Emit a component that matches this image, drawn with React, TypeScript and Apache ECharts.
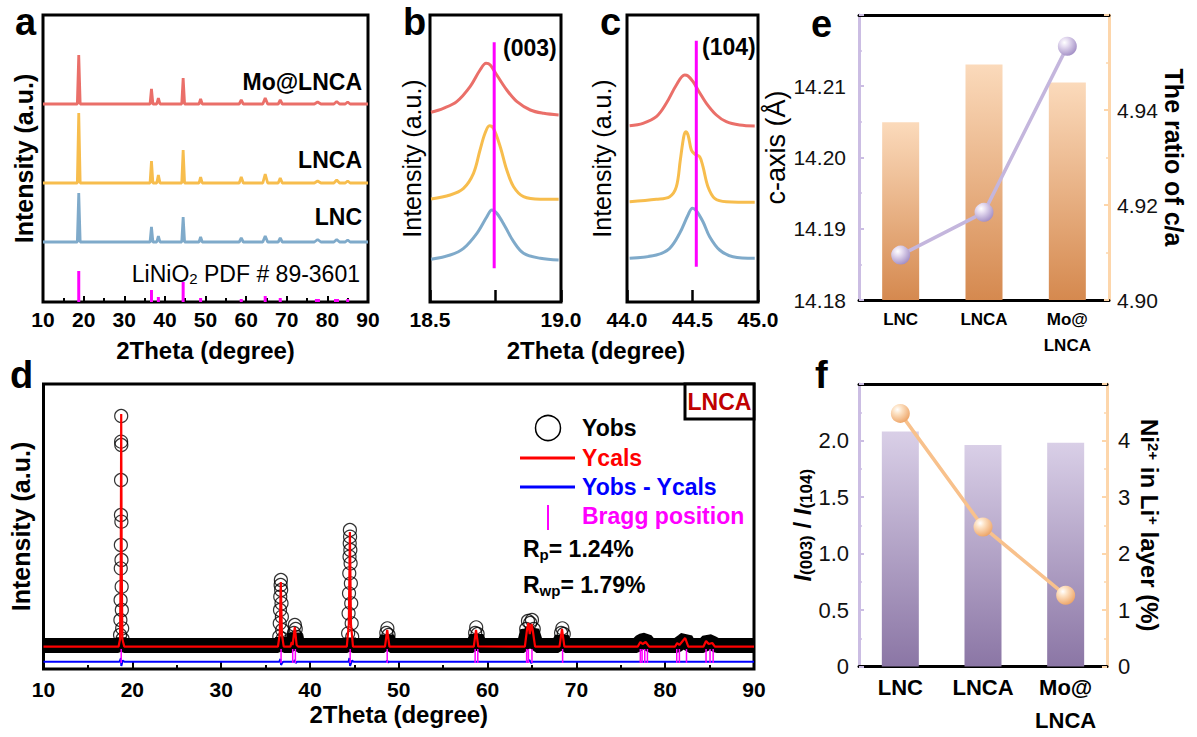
import React, { useEffect, useRef } from 'react';
import * as echarts from 'echarts';

const FONT = '"Liberation Sans", Arial, Helvetica, sans-serif';

// ---------- panel a : XRD patterns (offset traces) ----------
const aLNC: [number, number][] = [[10,60],[18.45,60],[18.8,109],[19.15,60],[36.35,60],[36.7,75],[37.05,60],[38.0,60],[38.4,66],[38.8,60],[44.15,60],[44.5,85],[44.85,60],[48.4,60],[48.8,65],[49.2,60],[58.3,60],[58.8,64],[59.3,60],[64.1,60],[64.7,66],[65.3,60],[67.9,60],[68.4,64],[68.9,60],[76.8,60],[77.6,62.5],[78.4,60],[81.6,60],[82.3,62.5],[83.0,60],[84.4,60],[85.0,62],[85.6,60],[90,60]];
const aLNCA: [number, number][] = [[10,119],[18.45,119],[18.8,189],[19.15,119],[36.35,119],[36.7,141],[37.05,119],[38.0,119],[38.4,127],[38.8,119],[44.15,119],[44.5,152],[44.85,119],[48.4,119],[48.8,125],[49.2,119],[58.3,119],[58.8,125],[59.3,119],[64.1,119],[64.7,128],[65.3,119],[67.9,119],[68.4,124],[68.9,119],[76.8,119],[77.6,121],[78.4,119],[81.6,119],[82.3,122],[83.0,119],[84.4,119],[85.0,121],[85.6,119],[90,119]];
const aMoLNCA: [number, number][] = [[10,198],[18.45,198],[18.8,247],[19.15,198],[36.35,198],[36.7,213],[37.05,198],[38.0,198],[38.4,204],[38.8,198],[44.15,198],[44.5,224],[44.85,198],[48.4,198],[48.8,203],[49.2,198],[58.3,198],[58.8,202],[59.3,198],[64.1,198],[64.7,204],[65.3,198],[67.9,198],[68.4,202],[68.9,198],[76.8,198],[77.6,200],[78.4,198],[81.6,198],[82.3,200.5],[83.0,198],[84.4,198],[85.0,200],[85.6,198],[90,198]];
const pdfPositions = [18.8, 36.7, 38.4, 44.5, 48.8, 58.8, 64.7, 68.4, 77.3, 77.8, 82.0, 82.5, 85.0];
const pdfHeights = [31, 12, 5, 20, 4, 3, 6, 4, 3, 3, 3, 3, 3];

// ---------- panel b : (003) ----------
const b003LNC: [number, number][] = [[18.504,42.7],[18.577,47],[18.628,53.7],[18.679,68.7],[18.717,85.3],[18.736,92],[18.755,88.7],[18.787,75.3],[18.819,60.3],[18.857,48.7],[18.921,43.7],[18.991,42]];
const b003LNCA: [number, number][] = [[18.504,103],[18.577,107],[18.628,113.7],[18.666,128.7],[18.691,152],[18.71,168.7],[18.727,176.3],[18.742,173.7],[18.768,155.3],[18.793,132],[18.819,115.3],[18.857,105.3],[18.921,102.7],[18.991,102.7]];
const b003Mo: [number, number][] = [[18.504,189.7],[18.551,193.7],[18.602,200.3],[18.653,215.3],[18.691,232],[18.714,238.7],[18.73,237],[18.755,227],[18.793,212],[18.832,200.3],[18.883,192],[18.934,188.7],[18.991,187]];
const b003Ref: [number, number][] = [[18.745,33.7],[18.745,259.7]];

// ---------- panel c : (104) ----------
const c104LNC: [number, number][] = [[44.02,43.7],[44.224,47],[44.326,53.7],[44.402,68.7],[44.466,87],[44.499,93.7],[44.529,91.3],[44.58,80.3],[44.631,65.3],[44.707,52],[44.809,45.3],[44.975,43.7]];
const c104LNCA: [number, number][] = [[44.02,100.3],[44.224,102.7],[44.326,105.3],[44.377,115.3],[44.407,142],[44.433,165.3],[44.448,170.3],[44.466,167],[44.491,152],[44.517,148],[44.555,145.3],[44.58,135.3],[44.618,115.3],[44.669,103.7],[44.758,100.3],[44.975,99.7]];
const c104Mo: [number, number][] = [[44.02,176.3],[44.122,178.7],[44.224,185.3],[44.3,198.7],[44.377,217],[44.44,227],[44.466,226],[44.504,220.3],[44.542,212],[44.606,198.7],[44.682,187],[44.758,180.3],[44.86,177],[44.975,176]];
const c104Ref: [number, number][] = [[44.529,35.3],[44.529,261.3]];

// ---------- panel d : Rietveld refinement (LNCA) ----------
const dYobsPeaks: [number, number][] = [
  [18.62,34],[18.66,49],[18.68,69],[18.7,100.7],[18.71,124],[18.72,154],[18.73,189],[18.74,227.3],[18.75,253],[18.76,224],[18.77,147.3],[18.78,109],[18.8,82.3],[18.82,59],[18.86,40.7],[18.9,30],
  [36.55,32.3],[36.6,45.7],[36.63,59],[36.66,72.3],[36.7,84],[36.73,89],[36.76,79],[36.8,65.7],[36.84,52.3],[36.88,39],[36.93,30],
  [38.2,36],[38.3,44],[38.4,40],[38.5,32],
  [44.3,35.7],[44.35,55.7],[44.4,75.7],[44.43,95.7],[44.46,112.3],[44.48,125.7],[44.5,139],[44.52,132.3],[44.55,119],[44.58,105.7],[44.61,85.7],[44.65,65.7],[44.7,45.7],[44.76,32],
  [48.6,36],[48.72,40.7],[48.85,34],
  [58.6,36],[58.72,41.7],[58.88,35],
  [64.35,40],[64.55,48],[64.8,46],[65.0,49],[65.2,40],
  [68.28,36],[68.42,40.7],[68.58,35]
];
const dYobsBand: [number, number][] = [[10,23.5],[18.4,23.5],[18.75,26],[19.1,23.5],[36.4,23.5],[36.75,27],[37.1,23.5],[37.9,23.5],[38.3,34],[38.7,23.5],[44.2,23.5],[44.5,27],[44.8,23.5],[48.35,23.5],[48.7,32],[49.05,23.5],[58.35,23.5],[58.75,32],[59.15,23.5],[64.1,23.5],[64.5,38],[64.75,35],[65.0,38],[65.5,23.5],[67.95,23.5],[68.35,31],[68.75,23.5],[76.8,23.5],[77.3,28],[77.8,29],[78.3,23.5],[81.3,23.5],[82.0,28],[82.3,30],[82.7,23.5],[84.3,23.5],[84.8,28],[85.3,26],[85.8,23.5],[90,23.5]];
const dYcals: [number, number][] = [[10,22.3],[18.45,22.3],[18.62,30],[18.7,110],[18.75,255],[18.8,110],[18.88,30],[19.1,22.3],[36.4,22.3],[36.6,35],[36.72,87],[36.84,35],[37.05,22.3],[37.8,22.3],[37.95,27],[38.05,24],[38.3,42],[38.5,24],[38.7,22.3],[44.15,22.3],[44.38,45],[44.5,137],[44.62,45],[44.85,22.3],[48.45,22.3],[48.7,39],[48.95,22.3],[58.45,22.3],[58.7,39],[58.95,22.5],[64.2,22.3],[64.45,40],[64.6,46],[64.75,35],[64.95,45],[65.1,38],[65.35,22.3],[68.1,22.3],[68.38,40],[68.65,22.3],[76.9,22.3],[77.2,27],[77.45,25],[77.8,27],[78.2,22.3],[81.1,22.3],[81.35,26],[81.6,24],[82.25,31],[82.6,22.3],[84.3,22.3],[84.6,28],[84.9,25],[85.3,26],[85.6,22.3],[90,22.3]];
const dDiff: [number, number][] = [[10,7.3],[18.55,7.3],[18.65,9],[18.72,11],[18.76,3],[18.82,5],[18.9,8.5],[19.1,7.3],[36.55,7.3],[36.68,10],[36.75,4],[36.85,6],[37.0,7.3],[38.2,7.3],[38.3,9],[38.4,6],[38.55,7.3],[44.35,7.3],[44.45,11],[44.52,3],[44.6,5],[44.75,8.5],[44.9,7.3],[48.6,7.3],[48.7,8.5],[48.8,6.5],[48.9,7.3],[64.5,7.3],[64.7,9],[64.9,6],[65.1,7.3],[90,7.3]];
const braggPositions = [18.75, 36.75, 38.06, 38.36, 44.53, 48.7, 58.6, 58.9, 64.4, 64.6, 65.0, 68.45, 77.2, 77.4, 77.7, 78.0, 81.3, 81.6, 82.4, 84.6, 85.05, 85.4];
const braggRange = [6, 20];

// ---------- panels e & f ----------
const samples = ['LNC', 'LNCA', 'Mo@\nLNCA'];
const eRatioCA = [4.9374, 4.9496, 4.9458];
const eCAxis = [14.1863, 14.1923, 14.2156];
const fI003I104 = [2.08, 1.96, 1.98];
const fNiInLi = [4.48, 2.47, 1.26];

const cRed = '#ea6f69';
const cYellow = '#f7bd4d';
const cBlue = '#7faaca';
const magenta = '#ff00ff';
const lavender = '#cbbde3';
const peach = '#fdd6ab';

const sticks = (pos: number[], lo: (i: number) => number, hi: (i: number) => number) =>
  pos.flatMap((p, i) => [[p, lo(i)], [p, hi(i)], [p, '-']]);

const valueX = (grid: number, min: number, max: number, interval: number, extra: any = {}) => ({
  type: 'value', gridIndex: grid, min, max, interval,
  axisLine: { show: false },
  axisTick: { show: true, inside: true, length: 6, lineStyle: { color: '#000', width: 2 } },
  minorTick: { show: true, splitNumber: 2, length: 4, lineStyle: { color: '#000', width: 2 } },
  splitLine: { show: false },
  axisLabel: { color: '#000', fontSize: 21, fontWeight: 'bold', fontFamily: FONT, margin: 7, lineHeight: 21 },
  ...extra,
});

const hiddenY = (grid: number, min: number, max: number, name: string, gap: number, bold: boolean) => ({
  type: 'value', gridIndex: grid, min, max, show: true,
  axisLine: { show: false }, axisTick: { show: false }, axisLabel: { show: false }, splitLine: { show: false },
  name, nameLocation: 'middle', nameRotate: 90, nameGap: gap,
  nameTextStyle: { color: '#000', fontSize: 25, fontWeight: bold ? 'bold' : 'normal', fontFamily: FONT, lineHeight: 25 },
});

const catX = (grid: number, top: boolean, fontSize: number, lineHeight: number, margin: number) => ({
  type: 'category', gridIndex: grid, data: samples, position: top ? 'top' : 'bottom',
  axisLine: { show: true, onZero: false, lineStyle: { color: '#000', width: 3 } },
  axisTick: { show: false },
  axisLabel: top ? { show: false } : { color: '#000', fontSize, fontWeight: 'bold', fontFamily: FONT, lineHeight, margin, interval: 0 },
  splitLine: { show: false },
});

const sideY = (grid: number, side: 'left' | 'right', color: string, min: number, max: number, interval: number, fmt: (v: number) => string, margin: number, name: any, nameGap: number, nameRotate: number, nameTextStyle: any, fontSize: number) => ({
  type: 'value', gridIndex: grid, position: side, min, max, interval,
  axisLine: { show: true, onZero: false, lineStyle: { color, width: 3 } },
  axisTick: { show: true, inside: true, length: 5, lineStyle: { color, width: 2 } },
  minorTick: { show: true, splitNumber: 2, length: 3, lineStyle: { color, width: 1.5 } },
  splitLine: { show: false },
  axisLabel: { color: '#111', fontSize, fontFamily: FONT, margin, formatter: fmt, showMaxLabel: false },
  name, nameLocation: 'middle', nameRotate, nameGap, nameTextStyle,
});

const vGrad = (top: string, bottom: string) => new echarts.graphic.LinearGradient(0, 0, 0, 1, [
  { offset: 0, color: top }, { offset: 1, color: bottom },
]);
const sphere = (mid: string, edge: string) => new echarts.graphic.RadialGradient(0.35, 0.3, 0.75, [
  { offset: 0, color: '#ffffff' }, { offset: 0.3, color: mid }, { offset: 1, color: edge },
]);

const line = (name: string, x: number, y: number, data: any[], color: string, width: number, smooth: any = false, z = 2) => ({
  name, type: 'line', xAxisIndex: x, yAxisIndex: y, data, smooth, symbol: 'none', z,
  lineStyle: { color, width }, connectNulls: false,
});

const boxGrid = (left: number, top: number, width: number, height: number) => ({
  left, top, width, height, show: true, borderColor: '#000', borderWidth: 3, backgroundColor: 'transparent',
});

const txt = (text: string, x: number, y: number, size: number, opts: any = {}) => ({
  type: 'text', x, y, z: 100,
  style: { text, fontSize: size, fontWeight: 'bold', fontFamily: FONT, fill: '#000', align: 'left', verticalAlign: 'middle', ...opts },
});

const subRich = (main: number, sub: number, drop: number, weight: string) => ({
  m: { fontSize: main, fontWeight: weight, fontFamily: FONT, lineHeight: main + 1, verticalAlign: 'top', fill: '#000', color: '#000' },
  s: { fontSize: sub, fontWeight: weight, fontFamily: FONT, lineHeight: sub, padding: [drop, 0, 0, 0], verticalAlign: 'bottom', fill: '#000', color: '#000' },
});

const option: any = {
  animation: false,
  backgroundColor: '#ffffff',
  textStyle: { fontFamily: FONT },
  grid: [
    boxGrid(43, 15, 325, 287),
    boxGrid(430, 15, 131, 287),
    boxGrid(627, 15, 131, 287),
    boxGrid(43, 384, 711, 285),
    { left: 859, top: 15, width: 250, height: 285 },
    { left: 859, top: 384, width: 248, height: 284 },
  ],
  xAxis: [
    valueX(0, 10, 90, 10, { name: '2Theta (degree)', nameLocation: 'middle', nameGap: 36, nameTextStyle: { color: '#000', fontSize: 24, fontWeight: 'bold', fontFamily: FONT, lineHeight: 24 } }),
    valueX(1, 18.5, 19.0, 0.25, {
      axisTick: { show: true, inside: true, length: 12, lineStyle: { color: '#000', width: 2.5 } }, minorTick: { show: false },
      axisLabel: { color: '#000', fontSize: 21, fontWeight: 'bold', fontFamily: FONT, margin: 7, lineHeight: 21, formatter: (v: number) => (Math.abs(v - 18.75) < 1e-6 ? '' : v.toFixed(1)) },
    }),
    valueX(2, 44.0, 45.0, 0.5, {
      axisTick: { show: true, inside: true, length: 12, lineStyle: { color: '#000', width: 2.5 } }, minorTick: { show: false },
      axisLabel: { color: '#000', fontSize: 21, fontWeight: 'bold', fontFamily: FONT, margin: 7, lineHeight: 21, formatter: (v: number) => v.toFixed(1) },
    }),
    valueX(3, 10, 90, 10, {
      axisTick: { show: true, inside: true, length: 7, lineStyle: { color: '#000', width: 2 } },
      axisLabel: { color: '#000', fontSize: 21, fontWeight: 'bold', fontFamily: FONT, margin: 10, lineHeight: 21 },
      name: '2Theta (degree)', nameLocation: 'middle', nameGap: 33, nameTextStyle: { color: '#000', fontSize: 24, fontWeight: 'bold', fontFamily: FONT, lineHeight: 24 },
    }),
    catX(4, false, 17, 26, 6.5),
    catX(4, true, 17, 26, 6.5),
    catX(5, false, 22, 33, 4.5),
    catX(5, true, 22, 33, 4.5),
  ],
  yAxis: [
    hiddenY(0, 0, 287, 'Intensity (a.u.)', 6.5, true),
    hiddenY(1, 0, 287, 'Intensity (a.u.)', 5.5, false),
    hiddenY(2, 0, 287, 'Intensity (a.u.)', 12.5, false),
    hiddenY(3, 0, 285, 'Intensity (a.u.)', 10.5, true),
    sideY(4, 'left', lavender, 14.18, 14.22, 0.01, (v) => v.toFixed(2), 13, 'c-axis (Å)', 62.5, 90,
      { color: '#000', fontSize: 27, fontFamily: FONT, lineHeight: 27, padding: [0, 0, 0, 20] }, 21),
    sideY(4, 'right', peach, 4.90, 4.96, 0.02, (v) => v.toFixed(2), 8, 'The ratio of c/a', 52.5, -90,
      { color: '#000', fontSize: 25, fontWeight: 'bold', fontFamily: FONT, lineHeight: 25 }, 21),
    sideY(5, 'left', lavender, 0, 2.5, 0.5, (v) => (v === 0 ? '0' : v.toFixed(1)), 10,
      '{i|I}{s|(003)}{n| / }{i|I}{s|(104)}', 36.5, 90,
      {
        color: '#000', fontFamily: FONT,
        rich: {
          i: { fontSize: 24, fontWeight: 'bold', fontStyle: 'italic', fontFamily: FONT, lineHeight: 24, verticalAlign: 'top', color: '#000' },
          n: { fontSize: 24, fontWeight: 'bold', fontFamily: FONT, lineHeight: 24, verticalAlign: 'top', color: '#000' },
          s: { fontSize: 17, fontWeight: 'bold', fontFamily: FONT, lineHeight: 17, padding: [19, 0, 0, 0], verticalAlign: 'bottom', color: '#000' },
        },
      }, 22),
    sideY(5, 'right', peach, 0, 5, 1, (v) => String(v), 11,
      '{n|Ni}{p|2+}{n| in Li}{p|+}{n| layer (%)}', 30, -90,
      {
        color: '#000', fontFamily: FONT,
        rich: {
          n: { fontSize: 24, fontWeight: 'bold', fontFamily: FONT, lineHeight: 24, verticalAlign: 'bottom', color: '#000' },
          p: { fontSize: 15, fontWeight: 'bold', fontFamily: FONT, lineHeight: 15, padding: [0, 0, 10, 0], verticalAlign: 'top', color: '#000' },
        },
      }, 22),
  ],
  series: [
    // a
    line('LNC', 0, 0, aLNC, cBlue, 2.8),
    line('LNCA', 0, 0, aLNCA, cYellow, 2.8),
    line('Mo@LNCA', 0, 0, aMoLNCA, cRed, 2.8),
    line('LiNiO2 PDF # 89-3601', 0, 0, sticks(pdfPositions, () => 0, (i) => pdfHeights[i]), magenta, 3),
    // b
    line('LNC (003)', 1, 1, b003LNC, cBlue, 3, 0.35),
    line('LNCA (003)', 1, 1, b003LNCA, cYellow, 3, 0.35),
    line('Mo@LNCA (003)', 1, 1, b003Mo, cRed, 3, 0.35),
    line('(003) reference', 1, 1, b003Ref, magenta, 3, false, 5),
    // c
    line('LNC (104)', 2, 2, c104LNC, cBlue, 3, 0.35),
    line('LNCA (104)', 2, 2, c104LNCA, cYellow, 3, 0.35),
    line('Mo@LNCA (104)', 2, 2, c104Mo, cRed, 3, 0.35),
    line('(104) reference', 2, 2, c104Ref, magenta, 3, false, 5),
    // d
    line('Yobs band', 3, 3, dYobsBand, '#000', 15, false, 2),
    {
      name: 'Yobs', type: 'scatter', xAxisIndex: 3, yAxisIndex: 3, data: dYobsPeaks, symbol: 'circle', symbolSize: 13, z: 3,
      itemStyle: { color: 'rgba(0,0,0,0)', borderColor: '#000', borderWidth: 1.2 },
    },
    line('Ycals', 3, 3, dYcals, '#ff0000', 2.2, false, 4),
    line('Yobs - Ycals', 3, 3, dDiff, '#0000ff', 2, false, 4),
    line('Bragg position', 3, 3, sticks(braggPositions, () => braggRange[0], () => braggRange[1]), magenta, 1.5, false, 5),
    // e
    {
      name: 'c/a', type: 'bar', xAxisIndex: 4, yAxisIndex: 5, data: eRatioCA, barWidth: 37, z: 2,
      itemStyle: { color: vGrad('#fbdabb', '#d5894f') },
    },
    {
      name: 'c-axis', type: 'line', xAxisIndex: 4, yAxisIndex: 4, data: eCAxis, z: 4,
      symbol: 'circle', symbolSize: 19, lineStyle: { color: '#c4b6dd', width: 3.5 },
      itemStyle: { color: sphere('#e6ddf1', '#a08cc4') },
    },
    // f
    {
      name: 'I(003)/I(104)', type: 'bar', xAxisIndex: 6, yAxisIndex: 6, data: fI003I104, barWidth: 37, z: 2,
      itemStyle: { color: vGrad('#d9cfe7', '#8b76a5') },
    },
    {
      name: 'Ni2+ in Li+ layer', type: 'line', xAxisIndex: 6, yAxisIndex: 7, data: fNiInLi, z: 4,
      symbol: 'circle', symbolSize: 19, lineStyle: { color: '#f8c18c', width: 3.5 },
      itemStyle: { color: sphere('#fde3c6', '#eda365') },
    },
  ],
  graphic: [
    txt('a', 15, 22, 38),
    txt('b', 403, 22, 38),
    txt('c', 600, 22, 38),
    txt('e', 811, 24, 38),
    txt('d', 10, 375, 38),
    txt('f', 815, 375, 38),
    txt('Mo@LNCA', 362, 82.4, 23, { align: 'right' }),
    txt('LNCA', 362, 160.4, 23, { align: 'right' }),
    txt('LNC', 362, 217.4, 23, { align: 'right' }),
    {
      type: 'text', x: 360, y: 274, z: 100,
      style: { text: '{m|LiNiO}{s|2}{m| PDF # 89-3601}', align: 'right', verticalAlign: 'middle', rich: subRich(23, 15, 12, 'normal') },
    },
    txt('(003)', 503, 47.5, 23),
    txt('(104)', 702, 47, 23),
    txt('2Theta (degree)', 596, 350, 24, { align: 'center' }),
    // d: sample box
    { type: 'rect', z: 100, shape: { x: 685, y: 384, width: 69, height: 35 }, style: { fill: '#fff', stroke: '#000', lineWidth: 3 } },
    txt('LNCA', 719.5, 402, 23, { align: 'center', fill: '#c00000' }),
    // d: legend
    { type: 'circle', z: 100, shape: { cx: 548, cy: 428, r: 12.5 }, style: { fill: 'none', stroke: '#000', lineWidth: 1.5 } },
    txt('Yobs', 582, 428, 23),
    { type: 'line', z: 100, shape: { x1: 520, y1: 458, x2: 575, y2: 458 }, style: { stroke: '#ff0000', lineWidth: 3 } },
    txt('Ycals', 582, 458, 23, { fill: '#ff0000' }),
    { type: 'line', z: 100, shape: { x1: 520, y1: 487, x2: 575, y2: 487 }, style: { stroke: '#0000ff', lineWidth: 3 } },
    txt('Yobs - Ycals', 582, 487, 23, { fill: '#0000ff' }),
    { type: 'line', z: 100, shape: { x1: 548, y1: 505, x2: 548, y2: 530 }, style: { stroke: magenta, lineWidth: 2 } },
    txt('Bragg position', 582, 516, 23, { fill: magenta }),
    {
      type: 'text', x: 523, y: 549.5, z: 100,
      style: { text: '{m|R}{s|p}{m|= 1.24%}', align: 'left', verticalAlign: 'middle', rich: subRich(23, 15, 12, 'bold') },
    },
    {
      type: 'text', x: 523, y: 585.5, z: 100,
      style: { text: '{m|R}{s|wp}{m|= 1.79%}', align: 'left', verticalAlign: 'middle', rich: subRich(23, 15, 12, 'bold') },
    },
  ],
};

export default function App() {
  const ref = useRef<HTMLDivElement>(null);
  useEffect(() => {
    if (!ref.current) return;
    const chart = echarts.init(ref.current, null, { renderer: 'svg' });
    chart.setOption(option);
    return () => chart.dispose();
  }, []);
  return (
    <div
      ref={ref}
      style={{ position: 'absolute', left: 0, top: 0, width: 1197, height: 737, background: '#fff' }}
    />
  );
}
